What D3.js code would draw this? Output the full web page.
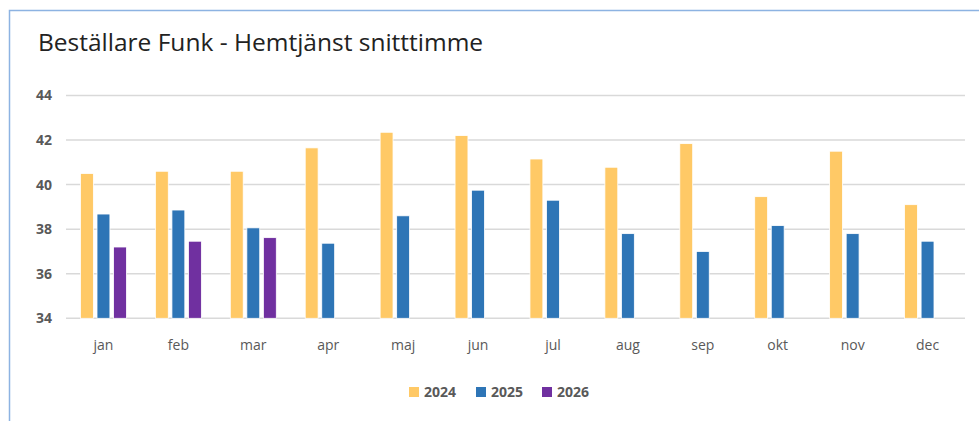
<!DOCTYPE html>
<html lang="sv">
<head>
<meta charset="UTF-8">
<title>Beställare Funk - Hemtjänst snitttimme</title>
<style>
  * { margin: 0; padding: 0; }
  body { background: #fff; }
  svg { display: block; }
</style>
</head>
<body>
<script src="https://cdn.jsdelivr.net/npm/d3@7"></script>
<script>
  // data
  var months = ['jan', 'feb', 'mar', 'apr', 'maj', 'jun', 'jul', 'aug', 'sep', 'okt', 'nov', 'dec'];
  var years = ['2024', '2025', '2026'];
  var v2024 = [40.5, 40.6, 40.6, 41.65, 42.35, 42.2, 41.15, 40.78, 41.84, 39.46, 41.5, 39.1];
  var v2025 = [38.68, 38.86, 38.06, 37.37, 38.6, 39.75, 39.3, 37.8, 37.0, 38.16, 37.8, 37.46];
  var v2026 = [37.2, 37.46, 37.62, null, null, null, null, null, null, null, null, null];
  var yTicks = [34, 36, 38, 40, 42, 44];

  var colors = { '2024': '#FFC966', '2025': '#2E75B6', '2026': '#7030A0' };
  var seriesVals = { '2024': v2024, '2025': v2025, '2026': v2026 };

  var width = 979, height = 421;
  var plot = { left: 66, right: 965, top: 95.5, bottom: 318.3 };

  var svg = d3.select('body').append('svg').attr('width', width).attr('height', height);

  // chart frame
  svg.append('path')
    .attr('d', 'M9.5,421 L9.5,10.5 L979,10.5')
    .attr('fill', 'none')
    .attr('stroke', '#8DB3E2')
    .attr('stroke-width', 1.5);

  // title
  svg.append('text')
    .attr('x', 38)
    .attr('y', 51)
    .style('font-family', 'Open Sans, sans-serif')
    .style('font-size', '24.5px')
    .style('fill', '#222')
    .text('Beställare Funk - Hemtjänst snitttimme');

  var y = d3.scaleLinear().domain([34, 44]).range([plot.bottom, plot.top]);
  var x0 = d3.scaleBand().domain(months).range([plot.left, plot.right])
    .paddingInner(0.386).paddingOuter(0.193);
  var x1 = d3.scaleBand().domain(years).range([0, x0.bandwidth()]).paddingInner(0.22);

  // gridlines
  svg.append('g')
    .selectAll('line')
    .data(yTicks)
    .enter()
    .append('line')
    .attr('x1', plot.left)
    .attr('x2', plot.right)
    .attr('y1', function (d) { return y(d); })
    .attr('y2', function (d) { return y(d); })
    .attr('stroke', '#D9D9D9')
    .attr('stroke-width', 1.5);

  // y axis labels
  var yAxis = svg.append('g')
    .attr('transform', 'translate(52,0)')
    .call(d3.axisLeft(y).tickValues(yTicks).tickSize(0).tickPadding(0));
  yAxis.select('.domain').remove();
  yAxis.selectAll('text')
    .style('font-family', 'Open Sans, sans-serif')
    .style('font-size', '14px')
    .style('font-weight', 'bold')
    .style('fill', '#595959');

  // x axis labels
  var xAxis = svg.append('g')
    .attr('transform', 'translate(0,' + plot.bottom + ')')
    .call(d3.axisBottom(x0).tickSize(0).tickPadding(22));
  xAxis.select('.domain').remove();
  xAxis.selectAll('text')
    .style('font-family', 'Open Sans, sans-serif')
    .style('font-size', '14px')
    .style('fill', '#595959');

  // bars
  var groups = svg.append('g')
    .selectAll('g')
    .data(months)
    .enter()
    .append('g')
    .attr('transform', function (d) { return 'translate(' + x0(d) + ',0)'; });

  groups.selectAll('rect')
    .data(function (m, i) {
      return years.map(function (yr) { return { year: yr, value: seriesVals[yr][i] }; })
        .filter(function (d) { return d.value != null; });
    })
    .enter()
    .append('rect')
    .attr('x', function (d) { return x1(d.year); })
    .attr('y', function (d) { return y(d.value); })
    .attr('width', x1.bandwidth())
    .attr('height', function (d) { return y(34) - y(d.value); })
    .attr('fill', function (d) { return colors[d.year]; })
    .attr('stroke', '#fff')
    .attr('stroke-width', 0.8);

  // legend
  var legendX = [409, 476, 542];
  var legend = svg.append('g')
    .selectAll('g')
    .data(years)
    .enter()
    .append('g')
    .attr('transform', function (d, i) { return 'translate(' + legendX[i] + ',387)'; });

  legend.append('rect')
    .attr('width', 10)
    .attr('height', 10)
    .attr('fill', function (d) { return colors[d]; });

  legend.append('text')
    .attr('x', 15)
    .attr('y', 5)
    .attr('dy', '0.35em')
    .style('font-family', 'Open Sans, sans-serif')
    .style('font-size', '14px')
    .style('font-weight', 'bold')
    .style('fill', '#595959')
    .text(function (d) { return d; });
</script>
</body>
</html>
